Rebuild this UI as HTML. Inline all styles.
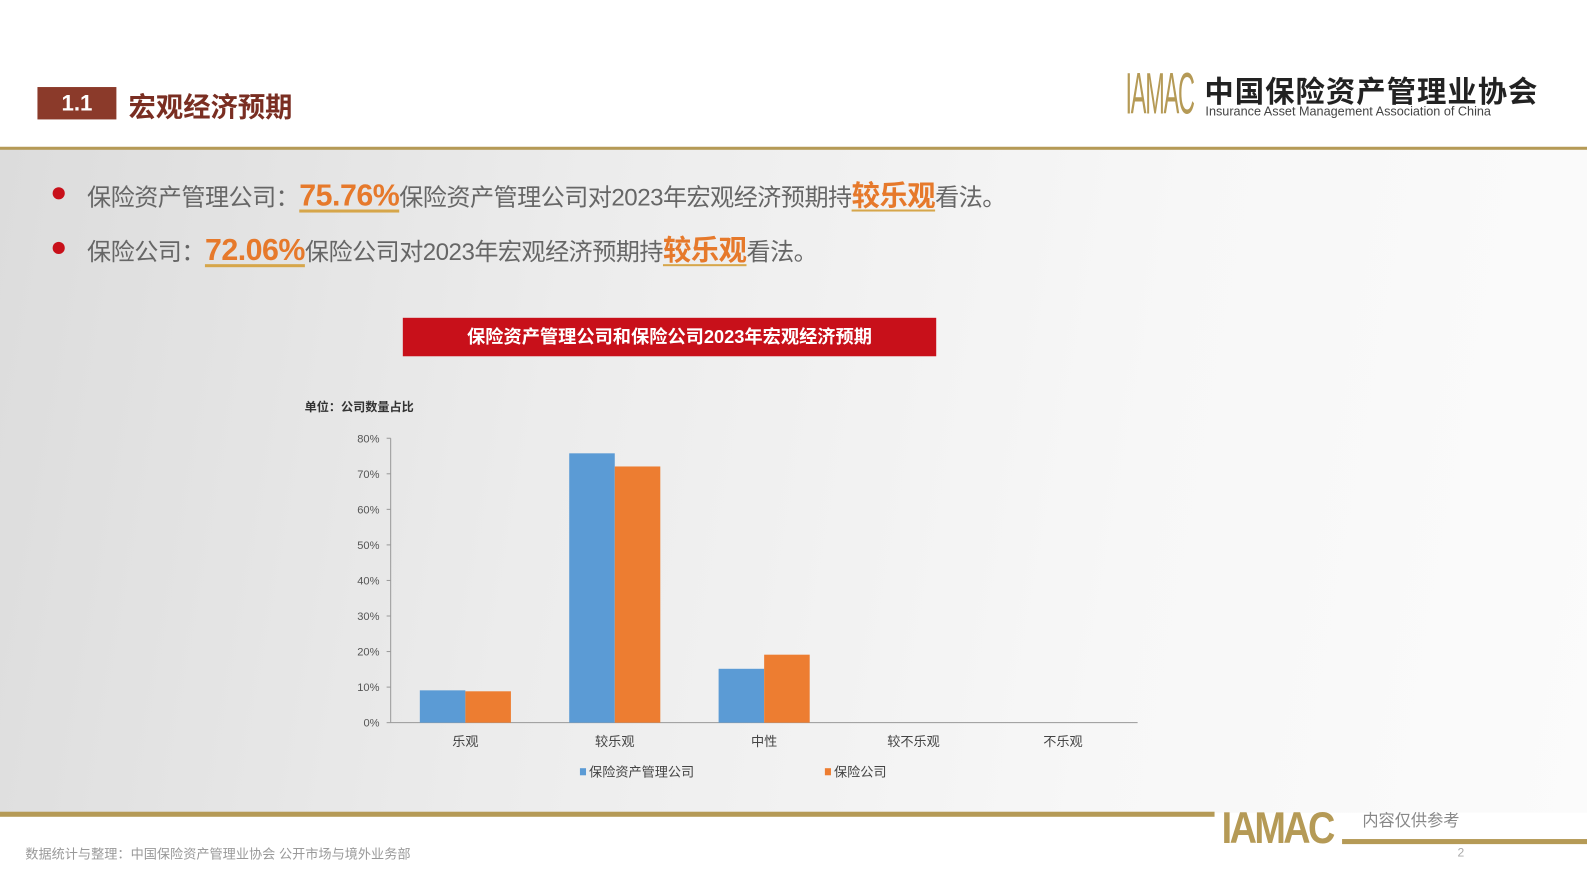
<!DOCTYPE html>
<html><head><meta charset="utf-8">
<style>
body{margin:0;width:1587px;height:892px;overflow:hidden;font-family:"Liberation Sans","Noto Sans CJK SC",sans-serif;background:#fff;position:relative}
#wrap{position:absolute;left:0;top:0;width:1568px;height:882px;transform:scale(1.01212);transform-origin:0 0}
.abs{position:absolute}
.content{left:0;top:148px;width:1568px;height:655px;background:linear-gradient(100deg,#dcdcdc 0%,#ececec 35%,#f7f7f7 70%,#fbfbfb 100%)}
.bullet{font-size:23.8px;color:#666;white-space:nowrap;letter-spacing:-0.5px}
.hl{color:#e6792b;font-weight:bold;text-decoration:underline;text-decoration-color:#d6a64a;text-underline-offset:4px}
.pct{font-size:30px}
.dot{width:12px;height:12px;border-radius:50%;background:#c8101a}
</style></head><body>
<div id="wrap">
<div class="abs" style="left:37px;top:86px;width:78px;height:32px;background:#8b3a2a;color:#fff;font-size:22px;font-weight:bold;text-align:center;line-height:32px">1.1</div>
<div class="abs" style="left:127px;top:84px;font-size:27px;font-weight:bold;color:#7a2e22">宏观经济预期</div>
<div class="abs" style="left:1112px;top:62px;font-size:58px;color:#b59a56;letter-spacing:-3px;transform:scaleX(0.4);transform-origin:left;line-height:62px">IAMAC</div>
<div class="abs" style="left:1190px;top:68px;font-size:29px;font-weight:bold;color:#222;letter-spacing:1px">中国保险资产管理业协会</div>
<div class="abs" style="left:1191px;top:103px;font-size:12.5px;color:#444">Insurance Asset Management Association of China</div>
<div class="abs" style="left:0;top:145px;width:1568px;height:4px;background:#b59a56"></div>
<div class="abs content"></div>
<div class="abs dot" style="left:52px;top:185px"></div>
<div class="abs bullet" style="left:86px;top:172px">保险资产管理公司：<span class="hl pct">75.76%</span>保险资产管理公司对2023年宏观经济预期持<span class="hl" style="font-size:28px">较乐观</span>看法。</div>
<div class="abs dot" style="left:52px;top:239px"></div>
<div class="abs bullet" style="left:86px;top:226px">保险公司：<span class="hl pct">72.06%</span>保险公司对2023年宏观经济预期持<span class="hl" style="font-size:28px">较乐观</span>看法。</div>
<div class="abs" style="left:398px;top:314px;width:527px;height:38px;background:#c8101a;color:#fff;font-size:18px;font-weight:bold;text-align:center;line-height:38px">保险资产管理公司和保险公司2023年宏观经济预期</div>
<svg class="abs" style="left:0;top:0" width="1568" height="882" id="chart"></svg>
<div class="abs" style="left:0;top:802px;width:1200px;height:5px;background:#b59a56"></div>
<div class="abs" style="left:1207px;top:794px;font-size:44px;font-weight:bold;color:#b59a56;letter-spacing:-3px;transform:scaleX(0.85);transform-origin:left">IAMAC</div>
<div class="abs" style="left:1326px;top:829px;width:242px;height:5px;background:#b59a56"></div>
<div class="abs" style="left:1346px;top:797px;font-size:16px;color:#888">内容仅供参考</div>
<div class="abs" style="left:25px;top:833px;font-size:13px;color:#999">数据统计与整理：中国保险资产管理业协会 公开市场与境外业务部</div>
<div class="abs" style="left:1440px;top:835px;font-size:12px;color:#aaa">2</div>
</div>
<script>
const categories=["乐观","较乐观","中性","较不乐观","不乐观"];
const seriesNames=["保险资产管理公司","保险公司"];
const seriesA=[9.09,75.76,15.15,0,0];
const seriesB=[8.82,72.06,19.12,0,0];
const yTicks=[0,10,20,30,40,50,60,70,80];
const colors=["#5b9bd5","#ed7d31"];
const svg=document.getElementById('chart');
const NS="http://www.w3.org/2000/svg";
const x0=386,x1=1124,y0=714,y80=433;
const yScale=v=>y0-(v/80)*(y0-y80);
const bandW=(x1-x0)/categories.length;
const xBand=i=>x0+i*bandW;
function mk(tag,attrs){const e=document.createElementNS(NS,tag);for(const k in attrs)e.setAttribute(k,attrs[k]);svg.appendChild(e);return e;}
let t=mk('text',{x:301,y:406,'font-size':12,'font-weight':'bold',fill:'#333'});t.textContent='单位：公司数量占比';


let ax=mk('line',{x1:x0,y1:y80,x2:x0,y2:y0,stroke:'#999'});


let bx=mk('line',{x1:x0,y1:y0,x2:x1,y2:y0,stroke:'#999'});


yTicks.forEach(v=>{
 const y=yScale(v);
 mk('line',{x1:x0-4,y1:y,x2:x0,y2:y,stroke:'#999'});
 const l=mk('text',{x:x0-11,y:y+4,'font-size':11,fill:'#555','text-anchor':'end'});l.textContent=v+'%';
 
 
});
const barW=45;
categories.forEach((c,i)=>{
 const cx=xBand(i)+bandW/2;
 [seriesA,seriesB].forEach((s,j)=>{
  const v=s[i];if(v<=0)return;
  const r=mk('rect',{x:cx-barW+j*barW,y:yScale(v),width:barW,height:y0-yScale(v),fill:colors[j]});
  
  
 });
 const l=mk('text',{x:cx,y:y0+23,'font-size':13,fill:'#444','text-anchor':'middle'});l.textContent=c;
 
 
});
const legX=[573,815];
seriesNames.forEach((n,j)=>{
 mk('rect',{x:legX[j],y:759,width:6,height:7,fill:colors[j]});
 const l=mk('text',{x:legX[j]+9,y:767,'font-size':13,fill:'#444'});l.textContent=n;
 
 
});
</script>
</body></html>
